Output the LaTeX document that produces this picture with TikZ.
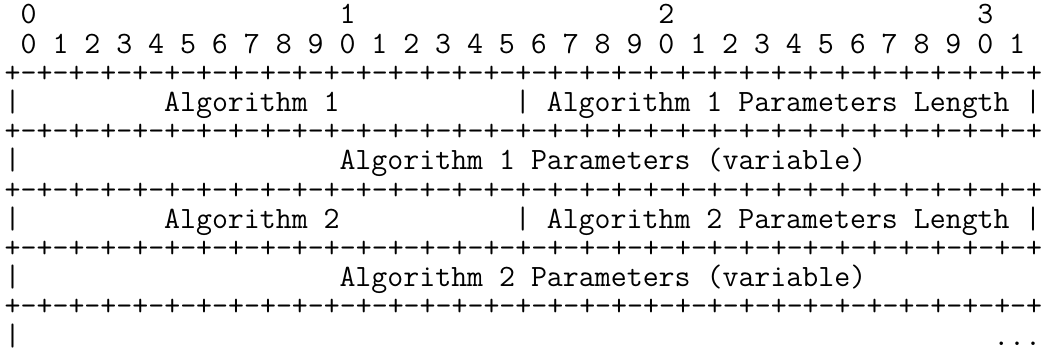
\documentclass[tikz,border=0pt]{standalone}
\usepackage{fontspec}
\tikzset{
mono text/.style={anchor=base west,inner sep=0pt,outer sep=0pt,
  font=\ttfamily\fontsize{31.1pt}{29.3pt}\selectfont}}
\newcommand{\rfcrule}{+-+-+-+-+-+-+-+-+-+-+-+-+-+-+-+-+-+-+-+-+-+-+-+-+-+-+-+-+-+-+-+-+}

\begin{document}
\begin{tikzpicture}[x=16pt,y=-29.3pt]
\useasboundingbox (-0.294,-0.82) rectangle (65.12,11.33);

% bit numbers
\foreach \d in {0,...,3}
  \node[mono text] (dec\d) at (20*\d+1,0) {\d};
\foreach \i in {0,...,31}{
  \pgfmathtruncatemacro{\u}{mod(\i,10)}
  \node[mono text] (bit\i) at (2*\i+1,1) {\u};
}

% rules and bars
\foreach \r in {2,4,6,8,10}
  \node[mono text] (rule\r) at (0,\r) {\rfcrule};
\foreach \r in {3,5,7,9,11}
  \node[mono text] (left\r) at (0,\r) {|};
\foreach \r in {3,7}{
  \node[mono text] (mid\r) at (32,\r) {|};
  \node[mono text] (right\r) at (64,\r) {|};
}

% fields
\node[mono text] (alg1) at (10,3) {Algorithm 1};
\node[mono text] (alg1len) at (34,3) {Algorithm 1 Parameters Length};
\node[mono text] (alg1par) at (21,5) {Algorithm 1 Parameters (variable)};
\node[mono text] (alg2) at (10,7) {Algorithm 2};
\node[mono text] (alg2len) at (34,7) {Algorithm 2 Parameters Length};
\node[mono text] (alg2par) at (21,9) {Algorithm 2 Parameters (variable)};
\node[mono text] (more) at (62,11) {...};

\end{tikzpicture}
\end{document}
